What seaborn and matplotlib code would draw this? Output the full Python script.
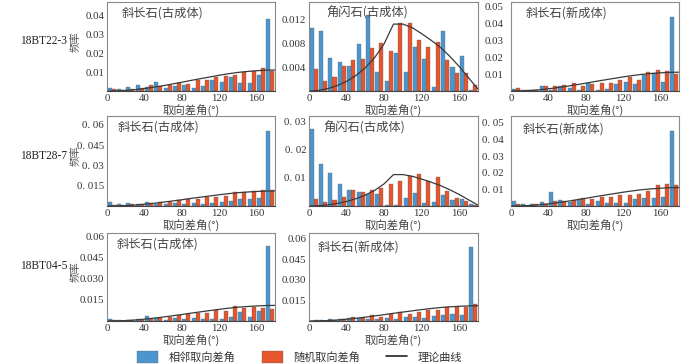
import numpy as np
import pandas as pd
import matplotlib
matplotlib.use("Agg")
import matplotlib.pyplot as plt
import seaborn as sns
from matplotlib.patches import Patch
from matplotlib.lines import Line2D

sns.set_style("white")
plt.rcParams['font.family'] = ['Noto Sans CJK SC', 'DejaVu Sans']

# misorientation angle bins (deg)
bin_edges = [0, 10, 20, 30, 40, 50, 60, 70, 80, 90, 100, 110, 120, 130, 140, 150, 160, 170, 180]
bin_centers = [5, 15, 25, 35, 45, 55, 65, 75, 85, 95, 105, 115, 125, 135, 145, 155, 165, 175]

# theoretical random curves, read at the bin edges
theory_angles = [0, 10, 20, 30, 40, 50, 60, 70, 80, 90, 100, 110, 120, 130, 140, 150, 160, 170, 180]
theory_plag = [0, 0.0001, 0.0003, 0.0007, 0.0013, 0.0020, 0.0028, 0.0037, 0.0046, 0.0056,
               0.0065, 0.0074, 0.0083, 0.0091, 0.0098, 0.0103, 0.0107, 0.0110, 0.0111]
theory_amph = [0, 0.0001, 0.0004, 0.0009, 0.0016, 0.0026, 0.0039, 0.0056, 0.0079, 0.0112,
               0.0112, 0.0106, 0.0096, 0.0085, 0.0073, 0.0058, 0.0041, 0.0022, 0.0003]

# 18BT22-3
bt22_plag_old_adj = [0.0017, 0.0010, 0.0023, 0.0030, 0.0023, 0.0047, 0.0017, 0.0027, 0.0030,
                     0.0017, 0.0028, 0.0060, 0.0047, 0.0073, 0.0043, 0.0040, 0.0087, 0.0380]
bt22_plag_old_rand = [0.0010, 0.0003, 0.0012, 0.0017, 0.0030, 0.0027, 0.0030, 0.0040, 0.0037,
                      0.0057, 0.0057, 0.0073, 0.0077, 0.0083, 0.0100, 0.0103, 0.0123, 0.0108]
bt22_amph_old_adj = [0.0105, 0.0100, 0.0056, 0.0049, 0.0042, 0.0078, 0.0128, 0.0032, 0.0017,
                     0.0063, 0.0032, 0.0073, 0.0053, 0.0006, 0.0101, 0.0041, 0.0059, 0.0001]
bt22_amph_old_rand = [0.0037, 0.0017, 0.0023, 0.0042, 0.0052, 0.0053, 0.0072, 0.0080, 0.0067,
                      0.0114, 0.0114, 0.0085, 0.0073, 0.0082, 0.0052, 0.0030, 0.0030, 0.0010]
bt22_plag_new_adj = [0.0014, 0.0006, 0.0006, 0.0031, 0.0008, 0.0027, 0.0020, 0.0004, 0.0050,
                     0.0006, 0.0010, 0.0040, 0.0054, 0.0039, 0.0097, 0.0107, 0.0052, 0.0437]
bt22_plag_new_rand = [0.0016, 0.0006, 0.0008, 0.0027, 0.0027, 0.0035, 0.0047, 0.0031, 0.0040,
                      0.0045, 0.0050, 0.0064, 0.0083, 0.0062, 0.0115, 0.0126, 0.0117, 0.0103]

# 18BT28-7
bt28_plag_old_adj = [0.0027, 0.0012, 0.0022, 0.0012, 0.0027, 0.0017, 0.0012, 0.0020, 0.0015,
                     0.0022, 0.0017, 0.0022, 0.0030, 0.0037, 0.0052, 0.0054, 0.0059, 0.0553]
bt28_plag_old_rand = [0.0005, 0.0005, 0.0012, 0.0015, 0.0020, 0.0030, 0.0032, 0.0044, 0.0049,
                      0.0054, 0.0066, 0.0066, 0.0075, 0.0103, 0.0103, 0.0108, 0.0120, 0.0120]
bt28_amph_old_adj = [0.0273, 0.0151, 0.0118, 0.0077, 0.0056, 0.0050, 0.0044, 0.0042, 0.0005,
                     0.0004, 0.0030, 0.0045, 0.0011, 0.0013, 0.0039, 0.0020, 0.0026, 0.0006]
bt28_amph_old_rand = [0.0026, 0.0013, 0.0023, 0.0031, 0.0056, 0.0050, 0.0058, 0.0063, 0.0079,
                      0.0090, 0.0106, 0.0113, 0.0089, 0.0102, 0.0054, 0.0030, 0.0018, 0.0004]
bt28_plag_new_adj = [0.0032, 0.0012, 0.0014, 0.0024, 0.0084, 0.0036, 0.0024, 0.0040, 0.0012,
                     0.0032, 0.0020, 0.0020, 0.0020, 0.0044, 0.0048, 0.0048, 0.0052, 0.0450]
bt28_plag_new_rand = [0.0012, 0.0002, 0.0010, 0.0012, 0.0028, 0.0028, 0.0036, 0.0050, 0.0042,
                      0.0052, 0.0056, 0.0066, 0.0066, 0.0072, 0.0088, 0.0124, 0.0130, 0.0124]

# 18BT04-5
bt04_plag_old_adj = [0.0012, 0.0010, 0.0010, 0.0017, 0.0036, 0.0019, 0.0007, 0.0021, 0.0017,
                     0.0021, 0.0012, 0.0012, 0.0012, 0.0026, 0.0062, 0.0026, 0.0074, 0.0530]
bt04_plag_old_rand = [0.0007, 0.0001, 0.0007, 0.0010, 0.0017, 0.0019, 0.0029, 0.0043, 0.0048,
                      0.0055, 0.0060, 0.0076, 0.0071, 0.0107, 0.0090, 0.0102, 0.0093, 0.0086]
bt04_plag_new_adj = [0.0002, 0.0010, 0.0015, 0.0017, 0.0024, 0.0022, 0.0017, 0.0017, 0.0020,
                     0.0017, 0.0029, 0.0031, 0.0022, 0.0039, 0.0046, 0.0048, 0.0046, 0.0540]
bt04_plag_new_rand = [0.0010, 0.0002, 0.0007, 0.0015, 0.0027, 0.0024, 0.0041, 0.0031, 0.0051,
                      0.0065, 0.0053, 0.0065, 0.0077, 0.0082, 0.0099, 0.0099, 0.0099, 0.0121]

samples = ['18BT22-3', '18BT28-7', '18BT04-5']
x_ticks = [0, 40, 80, 120, 160]

blue = '#4b96cf'
orange = '#e6552b'
serif = ['Liberation Serif', 'DejaVu Serif']

# row, col, title, adjacent, random, theory, ylim top, yticks, ytick labels, tick dir, title pos
panels = [
    (0, 0, '斜长石(古成体)', bt22_plag_old_adj, bt22_plag_old_rand, theory_plag, 0.047,
     [0.01, 0.02, 0.03, 0.04], ['0.01', '0.02', '0.03', '0.04'], 'in', (0.09, 0.875)),
    (0, 1, '角闪石(古成体)', bt22_amph_old_adj, bt22_amph_old_rand, theory_amph, 0.0149,
     [0.004, 0.008, 0.012], ['0.004', '0.008', '0.012'], 'in', (0.10, 0.875)),
    (0, 2, '斜长石(新成体)', bt22_plag_new_adj, bt22_plag_new_rand, theory_plag, 0.0525,
     [0.01, 0.02, 0.03, 0.04, 0.05], ['0.01', '0.02', '0.03', '0.04', '0.05'], 'out', (0.09, 0.88)),
    (1, 0, '斜长石(古成体)', bt28_plag_old_adj, bt28_plag_old_rand, theory_plag, 0.0664,
     [0.015, 0.03, 0.045, 0.06], ['0. 015', '0. 03', '0. 045', '0. 06'], 'in', (0.066, 0.88)),
    (1, 1, '角闪石(古成体)', bt28_amph_old_adj, bt28_amph_old_rand, theory_amph, 0.0321,
     [0.01, 0.02, 0.03], ['0. 01', '0. 02', '0. 03'], 'in', (0.085, 0.867)),
    (1, 2, '斜长石(新成体)', bt28_plag_new_adj, bt28_plag_new_rand, theory_plag, 0.0542,
     [0.01, 0.02, 0.03, 0.04, 0.05], ['0. 01', '0. 02', '0. 03', '0. 04', '0. 05'], 'out', (0.07, 0.855)),
    (2, 0, '斜长石(古成体)', bt04_plag_old_adj, bt04_plag_old_rand, theory_plag, 0.0626,
     [0.015, 0.03, 0.045, 0.06], ['0.015', '0.030', '0.045', '0.06'], 'in', (0.058, 0.87)),
    (2, 1, '斜长石(新成体)', bt04_plag_new_adj, bt04_plag_new_rand, theory_plag, 0.064,
     [0.015, 0.03, 0.045, 0.06], ['0.015', '0.030', '0.045', '0.06'], 'in', (0.05, 0.845)),
]

fig = plt.figure(figsize=(7, 3.64), dpi=100)

# axes boxes in pixels (left, top, right, bottom)
col_px = [(107, 275), (309, 478), (511, 679)]
row_px = [(2, 91), (116, 206), (233, 321)]
W, H = 700, 364

for row, col, title, adj, rnd, theory, ytop, yt, ytl, tdir, tpos in panels:
    l, r = col_px[col]
    t, b = row_px[row]
    ax = fig.add_axes([l / W, 1 - b / H, (r - l) / W, (b - t) / H])
    df = pd.DataFrame({
        'angle': bin_centers + bin_centers,
        'freq': adj + rnd,
        'kind': ['相邻取向差角'] * 18 + ['随机取向差角'] * 18,
    })
    sns.histplot(data=df, x='angle', weights='freq', hue='kind',
                 hue_order=['相邻取向差角', '随机取向差角'], bins=bin_edges,
                 multiple='dodge', shrink=0.86, palette=[blue, orange], alpha=1,
                 edgecolor='#666666', linewidth=0.25, legend=False, ax=ax)
    sns.lineplot(x=theory_angles, y=theory, color='#3a3a3a', lw=0.9, ax=ax)
    ax.set_xlim(0, 180)
    ax.set_ylim(0, ytop)
    ax.set_xticks(x_ticks)
    ax.set_xticklabels([str(v) for v in x_ticks], fontfamily=serif, fontsize=7.8, color='#333333')
    ax.set_yticks(yt)
    ax.set_yticklabels(ytl, fontfamily=serif, fontsize=7.8, color='#333333')
    ax.tick_params(axis='x', length=0, pad=2)
    ax.tick_params(axis='y', direction=tdir, length=3.5, width=0.6, color='#555555', pad=2)
    for s in ax.spines.values():
        s.set_color('#8a8a8a')
        s.set_linewidth(0.8)
    ax.spines['bottom'].set_color('#444444')
    ax.set_xlabel('取向差角(°)', fontsize=8.2, color='#444444', labelpad=1)
    if col == 0:
        ax.set_ylabel('频率', fontsize=7.5, color='#555555')
        ax.yaxis.set_label_coords(-0.155, 0.56)
    else:
        ax.set_ylabel('')
    ax.text(tpos[0], tpos[1], title, transform=ax.transAxes, fontsize=8.8,
            color='#444444', va='center', ha='left')

# sample names
for name, yc in zip(samples, [41, 156, 266]):
    fig.text(20 / W, 1 - yc / H, name, fontfamily=serif, fontsize=8.3,
             color='#222222', va='center', ha='left')

handles = [Patch(facecolor=blue, edgecolor='#666666', linewidth=0.25),
           Patch(facecolor=orange, edgecolor='#666666', linewidth=0.25),
           Line2D([0], [0], color='#222222', lw=1.2)]
fig.legend(handles, ['相邻取向差角', '随机取向差角', '理论曲线'], loc='lower left',
           bbox_to_anchor=(136 / W, 0.0), ncol=3, frameon=False, fontsize=8,
           handlelength=1.9, handleheight=1.2, handletextpad=0.9, columnspacing=2.4,
           borderpad=0, borderaxespad=0.1, labelcolor='#333333')

fig.savefig('out.png', dpi=100)
